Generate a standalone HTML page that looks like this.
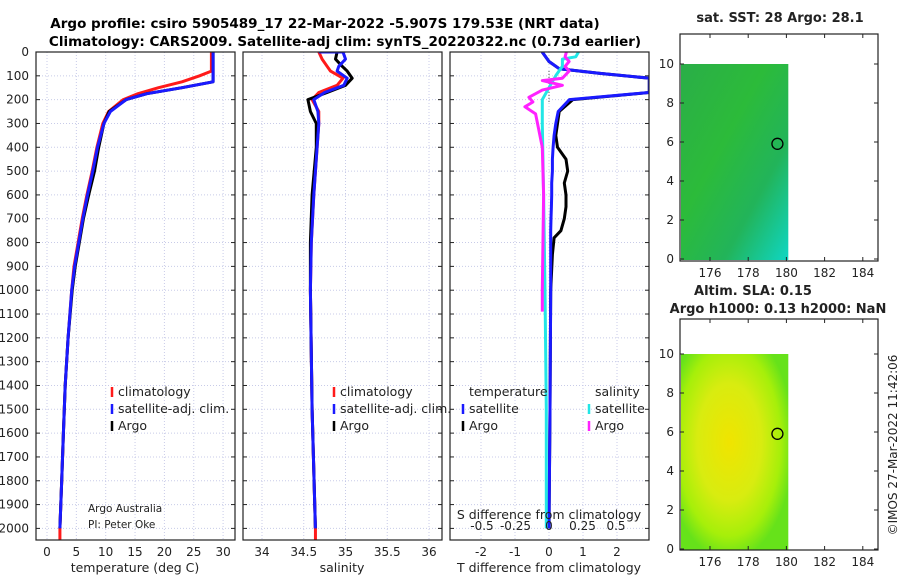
<!DOCTYPE html>
<html><head><meta charset="utf-8"><style>
body{margin:0;background:#fff;width:900px;height:580px;overflow:hidden}
svg{font-family:"DejaVu Sans","Liberation Sans",sans-serif}
</style></head><body>
<svg id="c" width="900" height="580" viewBox="0 0 900 580" xmlns="http://www.w3.org/2000/svg">
<defs>
<linearGradient id="sstg" x1="0" y1="0" x2="1" y2="1">
<stop offset="0" stop-color="#2aae48"/><stop offset="0.4" stop-color="#2cbb3a"/><stop offset="0.7" stop-color="#22b45a"/><stop offset="1" stop-color="#0fd6c4"/></linearGradient>
<radialGradient id="slag" cx="0.45" cy="0.45" r="0.6">
<stop offset="0" stop-color="#f0e400"/><stop offset="0.5" stop-color="#d8ec10"/><stop offset="0.8" stop-color="#a6ef0a"/><stop offset="1" stop-color="#66e21a"/></radialGradient>
</defs>
<text x="325" y="28" text-anchor="middle" font-size="13.5" font-weight="bold">Argo profile: csiro 5905489_17 22-Mar-2022 -5.907S 179.53E (NRT data)</text>
<text x="345" y="46" text-anchor="middle" font-size="13.5" font-weight="bold">Climatology: CARS2009. Satellite-adj clim: synTS_20220322.nc (0.73d earlier)</text>
<g id="g"></g>
</svg>
<script>
// ---- data ----
const tDepth = [0,80,100,125,150,175,200,250,300,400,500,600,700,800,900,1000,1200,1400,1600,1800,2000];
const tClim  = [28,28,26,23,19,15.5,13,10.5,9.5,8.5,7.7,6.8,6.0,5.3,4.6,4.2,3.6,3.1,2.8,2.5,2.2];
const tSat   = [28.3,28.3,28.3,28.3,23,17,13.5,10.8,9.7,8.6,7.8,6.9,6.1,5.4,4.7,4.2,3.6,3.1,2.8,2.5,2.2];
const tArgo  = [28.3,28.3,28.3,28.3,23,17,13.5,10.6,9.7,8.8,8.1,7.1,6.2,5.5,4.8,4.3,3.6,3.1,2.8,2.5,2.2];
const sDepth = [0,30,60,80,110,140,170,200,250,300,400,600,800,1000,1500,2000];
const sClim  = [34.68,34.72,34.78,34.82,34.97,34.9,34.68,34.6,34.68,34.68,34.66,34.62,34.59,34.58,34.6,34.64];
const sSat   = [34.97,35.0,34.92,34.9,35.02,34.98,34.75,34.62,34.67,34.68,34.66,34.62,34.59,34.58,34.6,34.64];
const sArgo  = [34.9,34.88,34.96,35.02,35.08,35.0,34.78,34.55,34.58,34.65,34.65,34.6,34.58,34.58,34.6,34.64];
const dDepth = [0,40,70,90,110,145,170,200,250,300,350,400,450,500,550,600,650,700,750,780,850,1000,1500,2000];
const dTSat  = [-0.2,0,0.3,1.5,2.95,2.95,2.95,0.6,0.27,0.2,0.15,0.12,0.1,0.1,0.08,0.08,0.07,0.06,0.05,0.05,0.05,0.05,0.03,0];
const dTArgo = [-0.2,0,0.3,1.5,2.95,2.95,2.95,0.7,0.3,0.25,0.2,0.25,0.5,0.55,0.45,0.5,0.5,0.45,0.35,0.15,0.1,0.05,0.03,0];
const dSDepth= [0,20,30,60,100,150,200,300,600,1000,1500,2000];
const dSSat  = [0.22,0.2,0.1,0.1,0.05,0,-0.05,-0.05,-0.04,-0.03,-0.02,-0.02];
const dSArgoDepth=[0,20,40,60,80,110,120,140,160,190,210,230,260,400,600,1000,1090];
const dSArgo = [0.13,0.12,0.15,0.12,0.15,0.1,-0.05,0.1,-0.05,-0.15,-0.12,-0.18,-0.1,-0.05,-0.04,-0.05,-0.05];
const depthTicks=[0,100,200,300,400,500,600,700,800,900,1000,1100,1200,1300,1400,1500,1600,1700,1800,1900,2000];
const tTicks=[0,5,10,15,20,25,30];
const sTicks=[34,34.5,35,35.5,36];
const dTTicks=[-2,-1,0,1,2];
const dSTicks=[-0.5,-0.25,0,0.25,0.5];
const lonTicks=[176,178,180,182,184];
const latTicks=[0,2,4,6,8,10];
const argoLon=179.53, argoLat=5.907;

const NS="http://www.w3.org/2000/svg", G=document.getElementById('g');
function el(t,a,p){const e=document.createElementNS(NS,t);for(const k in a)e.setAttribute(k,a[k]);(p||G).appendChild(e);return e;}
const yD=d=>52+d*0.2382;
const Y0=52, Y1=540;
const xT=v=>47+v*5.87, xS=v=>262+(v-34)*83.5, xDT=v=>549+v*34, xDS=v=>549+v*134;
function grid(x0,x1,xs){
  depthTicks.forEach(d=>{const l=el('line',{x1:x0,x2:x1,y1:yD(d),y2:yD(d),stroke:'#c8cbe8','stroke-width':1,'stroke-dasharray':'1,2'});
    el('line',{x1:x0,x2:x0+4,y1:yD(d),y2:yD(d),stroke:'#222'});el('line',{x1:x1-4,x2:x1,y1:yD(d),y2:yD(d),stroke:'#222'});});
  xs.forEach(x=>{const l=el('line',{x1:x,x2:x,y1:Y0,y2:Y1,stroke:'#c8cbe8','stroke-width':1,'stroke-dasharray':'1,2'});});
}
function frame(x0,x1,name){const r=el('rect',{x:x0,y:Y0,width:x1-x0,height:Y1-Y0,fill:'none',stroke:'#222','stroke-width':1.2});}
function txt(x,y,s,a,fs,name,extra){const t=el('text',Object.assign({x:x,y:y,'text-anchor':a||'middle','font-size':fs||12.5,fill:'#222'},extra||{}));t.textContent=s;return t;}
const defs=document.querySelector('defs');
[[36,235,'c1'],[243,442,'c2'],[450,649,'c3']].forEach(([a,b,id])=>{const c=el('clipPath',{id:id},defs);el('rect',{x:a,y:Y0,width:b-a,height:Y1-Y0},c);});
function lineIn(g,xf,vals,deps,col,w,name){const p=el('polyline',{points:vals.map((v,i)=>xf(v).toFixed(1)+','+yD(deps[i]).toFixed(1)).join(' '),fill:'none',stroke:col,'stroke-width':w,'stroke-linejoin':'round'},g);}
// panel 1
grid(36,235,tTicks.map(xT));
const g1=el('g',{'clip-path':'url(#c1)'});
lineIn(g1,xT,tClim,tDepth,'#ff1a1a',3,'temperature-climatology-line');
lineIn(g1,xT,tArgo,tDepth,'#000',3,'temperature-argo-line');
lineIn(g1,xT,tSat,tDepth,'#1a1aff',3,'temperature-satellite-line');
el('line',{x1:xT(2.2),x2:xT(2.2),y1:yD(2000),y2:Y1,stroke:'#ff1a1a','stroke-width':3},g1);
frame(36,235,'temperature-axes');
tTicks.forEach(v=>txt(xT(v),556,String(v),'middle',12,'temperature-tick-label'));
txt(135,572,'temperature (deg C)','middle',12.5,'temperature-axis-title');
depthTicks.forEach(d=>txt(29,yD(d)+4,String(d),'end',12,'depth-tick-label'));
txt(88,512,'Argo Australia','start',10.5,'credit-text');
txt(88,528,'PI: Peter Oke','start',10.5,'credit-text');
function leg(x,y,col,label,name){el('line',{x1:x,x2:x,y1:y-9,y2:y+1,stroke:col,'stroke-width':2.5});txt(x+6,y,label,'start',12.5,name);}
leg(112,396,'#ff1a1a','climatology','legend-climatology');
leg(112,413,'#1a1aff','satellite-adj. clim.','legend-satellite');
leg(112,430,'#000','Argo','legend-argo');
// panel 2
grid(243,442,sTicks.map(xS));
const g2=el('g',{'clip-path':'url(#c2)'});
lineIn(g2,xS,sClim,sDepth,'#ff1a1a',3,'salinity-climatology-line');
lineIn(g2,xS,sArgo,sDepth,'#000',3,'salinity-argo-line');
lineIn(g2,xS,sSat,sDepth,'#1a1aff',3,'salinity-satellite-line');
el('line',{x1:xS(34.68),x2:xS(34.97),y1:yD(0),y2:yD(0),stroke:'#1a1aff','stroke-width':3},g2);
el('line',{x1:xS(34.64),x2:xS(34.64),y1:yD(2000),y2:Y1,stroke:'#ff1a1a','stroke-width':3},g2);
frame(243,442,'salinity-axes');
sTicks.forEach(v=>txt(xS(v),556,String(v),'middle',12,'salinity-tick-label'));
txt(342,572,'salinity','middle',12.5,'salinity-axis-title');
leg(334,396,'#ff1a1a','climatology','legend-climatology-2');
leg(334,413,'#1a1aff','satellite-adj. clim.','legend-satellite-2');
leg(334,430,'#000','Argo','legend-argo-2');
// panel 3
grid(450,649,dTTicks.map(xDT));
const g3=el('g',{'clip-path':'url(#c3)'});
el('line',{x1:549,x2:549,y1:yD(80),y2:yD(210),stroke:'#555','stroke-width':1,'stroke-dasharray':'1,2'},g3);
lineIn(g3,xDT,dTArgo,dDepth,'#000',3,'t-diff-argo-line');
lineIn(g3,xDT,dTSat,dDepth,'#1a1aff',3,'t-diff-satellite-line');
lineIn(g3,xDS,dSSat,dSDepth,'#22e6e6',3,'s-diff-satellite-line');
lineIn(g3,xDS,dSArgo,dSArgoDepth,'#ff22ff',3,'s-diff-argo-line');
frame(450,649,'difference-axes');
dTTicks.forEach(v=>txt(xDT(v),556,String(v),'middle',12,'t-diff-tick-label'));
txt(549,572,'T difference from climatology','middle',12.5,'t-diff-axis-title');
dSTicks.forEach(v=>txt(xDS(v),530,String(v),'middle',12,'s-diff-tick-label'));
txt(549,519,'S difference from climatology','middle',12.5,'s-diff-axis-title');
txt(469,396,'temperature','start',12.5,'legend-temperature-header');
txt(595,396,'salinity','start',12.5,'legend-salinity-header');
leg(463,413,'#1a1aff','satellite','legend-t-satellite');
leg(463,430,'#000','Argo','legend-t-argo');
leg(589,413,'#22e6e6','satellite','legend-s-satellite');
leg(589,430,'#ff22ff','Argo','legend-s-argo');
// maps
const xL=v=>710+(v-176)*19.1;
function map(y0,y1,yTop10,fill,name){
  const yL=v=>(yTop10+195)-v*19.5;
  const r=el('rect',{x:681,y:yL(10),width:xL(180.1)-681,height:yL(0)-yL(10)+1,fill:fill});
  const f=el('rect',{x:680,y:y0,width:198,height:y1-y0,fill:'none',stroke:'#222','stroke-width':1.2});
  lonTicks.forEach(v=>{el('line',{x1:xL(v),x2:xL(v),y1:y1,y2:y1-4,stroke:'#222'});el('line',{x1:xL(v),x2:xL(v),y1:y0,y2:y0+4,stroke:'#222'});txt(xL(v),y1+16,String(v),'middle',12,name+'-lon-tick');});
  latTicks.forEach(v=>{el('line',{x1:680,x2:684,y1:yL(v),y2:yL(v),stroke:'#222'});el('line',{x1:874,x2:878,y1:yL(v),y2:yL(v),stroke:'#222'});txt(674,yL(v)+4,String(v),'end',12,name+'-lat-tick');});
  const c=el('circle',{cx:xL(argoLon),cy:yL(argoLat),r:5.5,fill:'none',stroke:'#000','stroke-width':1.3});
}
map(34,261,64,'url(#sstg)','sst-map');
map(319,550,354,'url(#slag)','sla-map');
txt(780,22,'sat. SST: 28 Argo: 28.1','middle',13,'sst-map-title',{'font-weight':'bold'});
txt(753,295,'Altim. SLA: 0.15','middle',13,'sla-map-title',{'font-weight':'bold'});
txt(778,313,'Argo h1000: 0.13 h2000: NaN','middle',13,'sla-map-subtitle',{'font-weight':'bold'});
txt(897,445,'©IMOS 27-Mar-2022 11:42:06','middle',12,'timestamp',{transform:'rotate(-90 897 445)'});
</script>
</body></html>
